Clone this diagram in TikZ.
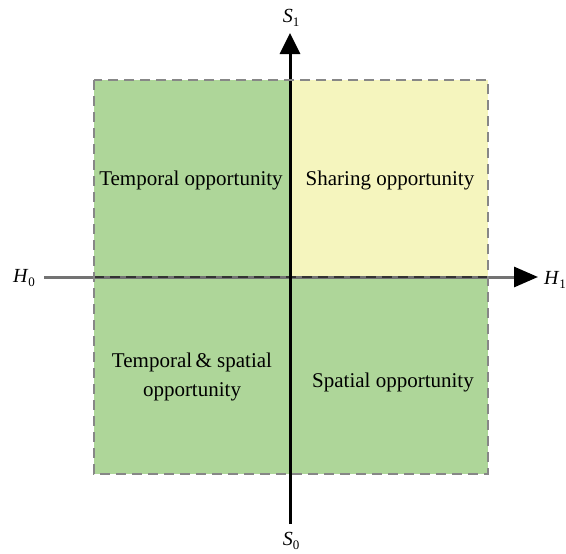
\documentclass[tikz,border=0pt]{standalone}
\usepackage{fontspec}
\setmainfont{Liberation Serif}
\usetikzlibrary{arrows.meta}
\definecolor{quadgreen}{RGB}{174,214,153}
\definecolor{quadyellow}{RGB}{245,245,190}
\definecolor{edgegray}{RGB}{135,135,135}
\newdimen\unitsize
\setlength{\unitsize}{1pt}
\newcommand{\axlab}[2]{\textit{#1}\raisebox{-0.5ex}{\fontsize{13}{14}\selectfont #2}}

\begin{document}
\begin{tikzpicture}[x=\unitsize,y=-\unitsize,
  quadtext/.style={align=center,font=\fontsize{21}{29}\selectfont,inner sep=0pt},
  axtext/.style={font=\fontsize{20}{22}\selectfont,inner sep=0pt},
  quadedge/.style={edgegray,line width=2.5pt,dash pattern=on 10pt off 6pt}]
\useasboundingbox (0,0) rectangle (566,554);
% quadrants
\fill[quadgreen] (94,80) rectangle (290,277);
\fill[quadyellow] (290,80) rectangle (488,277);
\fill[quadgreen] (94,277) rectangle (488,474);
% axis ends
\coordinate (hstart) at (44,277);
\coordinate (hend) at (538,277);
\coordinate (sstart) at (290,524);
\coordinate (send) at (290,33);
\draw[gray!90!black,line width=3pt,
  -{Triangle[length=24pt,width=20pt,color=black]}] (hstart) -- (hend);
\draw[black!80,line width=2.5pt,dash pattern=on 10pt off 6pt] (94,277) -- (488,277);
\draw[black,line width=3pt,
  -{Triangle[length=21pt,width=20pt]}] (sstart) -- (send);
\draw[quadedge] (94,80) rectangle (488,474);
% texts
\node[quadtext] (temporal) at (191,180) {Temporal opportunity};
\node[quadtext] (sharing) at (390,180) {Sharing opportunity};
\node[quadtext] (both) at (192,377) {Temporal\,\& spatial\\opportunity};
\node[quadtext] (spatial) at (393,382) {Spatial opportunity};
\node[axtext] (s1) at (291,18) {\axlab{S}{1}};
\node[axtext] (s0) at (291,541) {\axlab{S}{0}};
\node[axtext] (h0) at (24,278) {\axlab{H}{0}};
\node[axtext] (h1) at (555,280) {\axlab{H}{1}};
\end{tikzpicture}
\end{document}
